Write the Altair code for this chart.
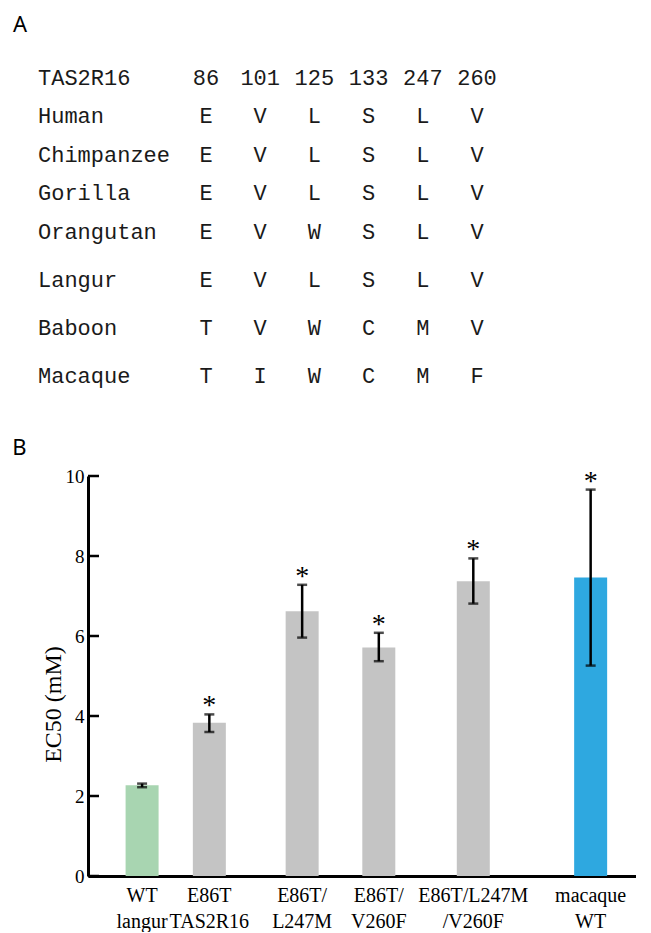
import altair as alt
import pandas as pd

# ---------------- Panel A data ----------------
species = ["Human", "Chimpanzee", "Gorilla", "Orangutan", "Langur", "Baboon", "Macaque"]
sites = ["86", "101", "125", "133", "247", "260"]
residues = ["EVLSLV", "EVLSLV", "EVLSLV", "EVWSLV", "EVLSLV", "TVWCMV", "TIWCMF"]
row_slot = [1, 2, 3, 4, 5.25, 6.5, 7.75]      # row order (with the gaps seen in the figure)
site_slot = [1, 2, 3, 4, 5, 6]
name_slot = -2.1
gene = "TAS2R16"

# ---------------- Panel B data ----------------
constructs = ["WT\nlangur", "E86T\nTAS2R16", "E86T/\nL247M", "E86T/\nV260F",
              "E86T/L247M\n/V260F", "macaque\nWT"]
x_slot = [1.46, 3.46, 6.22, 8.50, 11.31, 14.80]
ec50 = [2.27, 3.83, 6.62, 5.71, 7.37, 7.46]
err_lo = [2.22, 3.60, 5.96, 5.37, 6.81, 5.26]
err_hi = [2.31, 4.04, 7.28, 6.08, 7.94, 9.66]
signif = ["", "*", "*", "*", "*", "*"]
group = ["langur", "mutant", "mutant", "mutant", "mutant", "macaque"]
y_ticks = [0, 2, 4, 6, 8, 10]

# ---------------- Panel A chart ----------------
cells = pd.DataFrame([
    {"row": row_slot[i], "col": site_slot[j], "text": residues[i][j]}
    for i in range(len(species)) for j in range(len(sites))
] + [{"row": 0, "col": site_slot[j], "text": sites[j]} for j in range(len(sites))])
names = pd.DataFrame({"row": [0] + row_slot, "col": [name_slot] * (len(species) + 1),
                      "text": [gene] + species})

xs_top = alt.Scale(domain=[-1.177, 8.934], nice=False, zero=False)
ys_top = alt.Scale(domain=[-1.818, 9.091], nice=False, zero=False, reverse=True)

mono = dict(font="Liberation Mono", fontSize=22, color="#1a1a1a", baseline="middle")

cell_layer = alt.Chart(cells).mark_text(align="center", **mono).encode(
    x=alt.X("col:Q", scale=xs_top, axis=None),
    y=alt.Y("row:Q", scale=ys_top, axis=None),
    text="text:N",
)
name_layer = alt.Chart(names).mark_text(align="left", **mono).encode(
    x=alt.X("col:Q", scale=xs_top, axis=None),
    y=alt.Y("row:Q", scale=ys_top, axis=None),
    text="text:N",
)
label_a = alt.Chart(pd.DataFrame({"t": ["A"]})).mark_text(
    font="Noto Sans", fontSize=22, color="black", align="center", baseline="middle"
).encode(x=alt.value(-68), y=alt.value(17), text="t:N")

top = alt.layer(cell_layer, name_layer, label_a).properties(width=548, height=420)

# ---------------- Panel B chart ----------------
df = pd.DataFrame({"label": constructs, "slot": x_slot, "ec50": ec50, "lo": err_lo,
                   "hi": err_hi, "sig": signif, "group": group})
ticks_df = pd.DataFrame({"v": y_ticks})

xs = alt.Scale(domain=[0, 16], nice=False, zero=False)
ys = alt.Scale(domain=[0, 10], nice=False)

x_axis = alt.Axis(labels=False, ticks=False, grid=False, domainColor="black",
                  domainWidth=3, title=None)
y_axis = alt.Axis(values=y_ticks, ticks=False, grid=False, domainColor="black",
                  domainWidth=3, labelFont="Liberation Serif", labelFontSize=19,
                  labelColor="black", labelPadding=4, title="EC50 (mM)",
                  titleFont="Liberation Serif", titleFontSize=24,
                  titleFontWeight="normal", titleColor="black", titleX=-35,
                  titleY=228, titleAngle=270, titleAlign="center",
                  titleBaseline="middle")

bars = alt.Chart(df).mark_bar(size=33).encode(
    x=alt.X("slot:Q", scale=xs, axis=x_axis),
    y=alt.Y("ec50:Q", scale=ys, axis=y_axis),
    color=alt.Color("group:N", legend=None,
                    scale=alt.Scale(domain=["langur", "mutant", "macaque"],
                                    range=["#a8d5b1", "#c4c4c4", "#2ea8e0"])),
)
whisk = alt.Chart(df).mark_rule(strokeWidth=2.5, color="black").encode(
    x="slot:Q", y="lo:Q", y2="hi:Q")
cap_lo = alt.Chart(df).mark_tick(orient="horizontal", size=10, thickness=2.5,
                                 color="black").encode(x="slot:Q", y="lo:Q")
cap_hi = alt.Chart(df).mark_tick(orient="horizontal", size=10, thickness=2.5,
                                 color="black").encode(x="slot:Q", y="hi:Q")
stars = alt.Chart(df).mark_text(font="Liberation Serif", fontSize=28, color="black",
                                baseline="alphabetic", dy=0).encode(
    x="slot:Q", y="hi:Q", text="sig:N")
xlabels = alt.Chart(df).mark_text(font="Liberation Serif", fontSize=20, color="black",
                                  baseline="alphabetic", lineBreak="\n",
                                  lineHeight=26).encode(
    x="slot:Q", y=alt.value(426), text="label:N")
yticks = alt.Chart(ticks_df).mark_rule(strokeWidth=2.5, color="black").encode(
    y=alt.Y("v:Q", scale=ys), x=alt.value(0), x2=alt.value(11))
label_b = alt.Chart(pd.DataFrame({"t": ["B"]})).mark_text(
    font="Noto Sans", fontSize=22, color="black", align="center", baseline="middle"
).encode(x=alt.value(-68.5), y=alt.value(-28), text="t:N")

bottom = alt.layer(bars, whisk, cap_lo, cap_hi, stars, yticks, xlabels, label_b).properties(
    width=548, height=400)

chart = alt.vconcat(top, bottom, spacing=9).properties(
    padding={"left": 4, "top": 0, "right": 0, "bottom": 0}
).configure_view(stroke=None)

chart.save("out.html", embed_options={"renderer": "svg", "actions": False})
